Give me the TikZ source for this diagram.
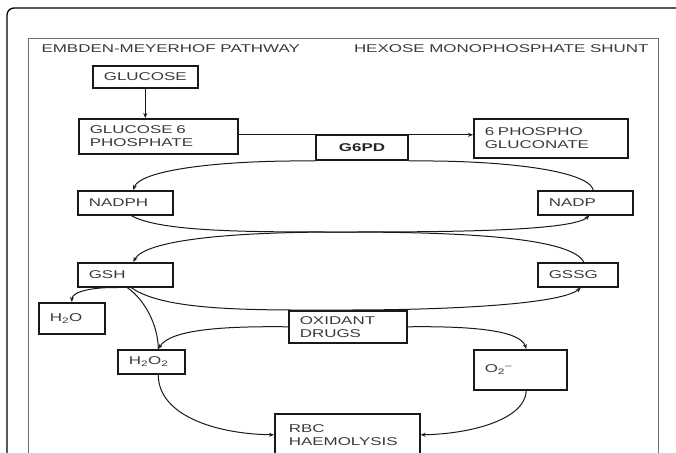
\documentclass[tikz,border=0pt]{standalone}
\usepackage{fontspec}
\setmainfont{Liberation Sans}[FakeStretch=1.5]
\usetikzlibrary{arrows.meta,calc}
\definecolor{txtgray}{RGB}{58,58,58}
\definecolor{framegray}{RGB}{110,110,110}
\begin{document}
\begin{tikzpicture}[x=1pt, y=-1pt,
    box/.style={draw=black!90, line width=1.6pt, anchor=north west,
      inner xsep=11pt, inner ysep=0pt, align=left},
    link/.style={line width=1pt, black!90},
    arr/.style={link, -{Stealth[length=5pt, width=4pt]}}]
  \tikzstyle{every node}=[font=\fontsize{11.3}{13}\selectfont, text=txtgray]
  \useasboundingbox (0,0) rectangle (676,452);
  \clip (0,0) rectangle (676,452);
  \draw[line width=1.3pt, rounded corners=7pt] (7,8) rectangle (700,480);
  \draw[framegray, line width=0.9pt] (28,38) rectangle (658,480);

  \node[anchor=west] (emp) at (38,49) {EMBDEN-MEYERHOF PATHWAY};
  \node[anchor=east] (hms) at (652,49) {HEXOSE MONOPHOSPHATE SHUNT};

  \node[box, align=center, minimum width=105pt, minimum height=22pt] (glucose) at (92,65) {GLUCOSE};
  \node[box, text width=137pt, minimum height=35pt] (g6p) at (78,118) {GLUCOSE 6\\PHOSPHATE};
  \node[box, line width=2pt, align=center, minimum width=92pt, minimum height=25pt,
    font=\fontsize{11.3}{13}\selectfont\bfseries, text=black!85] (g6pd) at (315,134) {G6PD};
  \node[box, text width=132pt, minimum height=39pt] (phglu) at (473,118) {6 PHOSPHO\\GLUCONATE};
  \node[box, text width=73pt, minimum height=24pt] (nadph) at (77,190) {NADPH};
  \node[box, text width=73pt, minimum height=24pt] (nadp) at (537,190) {NADP};
  \node[box, text width=73pt, minimum height=24pt] (gsh) at (77,262) {GSH};
  \node[box, text width=58pt, minimum height=24pt] (gssg) at (537,262) {GSSG};
  \node[box, text width=44pt, minimum height=31pt] (water) at (38,302) {H\textsubscript{2}O};
  \node[box, text width=96pt, minimum height=32pt] (drugs) at (288,310) {OXIDANT\\DRUGS};
  \node[box, text width=45pt, minimum height=24pt] (peroxide) at (117,349) {H\textsubscript{2}O\textsubscript{2}};
  \node[box, text width=71pt, minimum height=40pt] (superox) at (473,349) {O\textsubscript{2}\textsuperscript{--}};
  \node[box, inner xsep=14pt, text width=117pt, minimum height=42pt] (rbc) at (274,413) {RBC\\HAEMOLYSIS};

  \coordinate (g6pout) at ([yshift=1.5pt]g6p.east);
  \coordinate (cross) at (340,232);

  \draw[arr] (glucose.south) -- (glucose.south |- g6p.north);
  \draw[arr] (g6pout) -- (g6pout -| phglu.west);

  \draw[link] ([xshift=8pt]nadp.north) .. controls (588,170) and (500,160) .. (g6pd.south east);
  \draw[arr] (g6pd.south west) .. controls (220,160) and (140,170) .. ([xshift=8pt]nadph.north);
  \draw[arr] ([xshift=6pt]nadph.south) .. controls (160,232) and (250,232) .. (cross)
    .. controls (430,232) and (570,232) .. ([xshift=4pt]nadp.south);
  \draw[arr] ([xshift=6pt]gssg.north) .. controls (570,236) and (450,232) .. (cross)
    .. controls (230,232) and (145,240) .. ([xshift=8pt]gsh.north);
  \draw[arr] ([xshift=6pt]gsh.south) .. controls (165,312) and (260,310) .. (drugs.north)
    .. controls (440,310) and (560,305) .. ([xshift=3pt]gssg.south);
  \draw[arr] ([xshift=-8pt]gsh.south) .. controls (95,287) and (72,291) .. (water.north);
  \draw[link] ([xshift=2pt]gsh.south) .. controls (145,300) and (158,325) .. ([xshift=7pt]peroxide.north);
  \draw[arr] (drugs.west) .. controls (220,326) and (170,330) .. ([xshift=7pt]peroxide.north);
  \draw[arr] (drugs.east) .. controls (470,326) and (520,330) .. ([xshift=6pt]superox.north);
  \draw[arr] ([xshift=7pt]peroxide.south) .. controls (158,415) and (215,434) .. (rbc.west);
  \draw[arr] ([xshift=6pt]superox.south) .. controls (525,420) and (470,434) .. (rbc.east);
\end{tikzpicture}
\end{document}
